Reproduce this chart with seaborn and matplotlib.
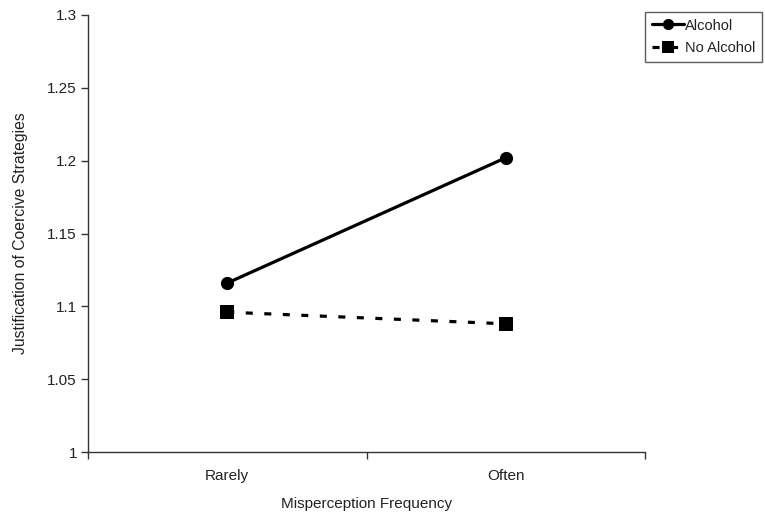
import matplotlib
matplotlib.use("Agg")
import matplotlib.pyplot as plt
import seaborn as sns
import pandas as pd
from matplotlib.ticker import FixedLocator

categories = ["Rarely", "Often"]
alcohol = [1.116, 1.202]
no_alcohol = [1.096, 1.088]
series_names = ["Alcohol", "No Alcohol"]
yticks = [1.0, 1.05, 1.1, 1.15, 1.2, 1.25, 1.3]
ytick_labels = ["1", "1.05", "1.1", "1.15", "1.2", "1.25", "1.3"]

df = pd.DataFrame({
    "Frequency": categories * 2,
    "Value": alcohol + no_alcohol,
    "Condition": [series_names[0]] * 2 + [series_names[1]] * 2,
})

sns.set_theme(style="white")
plt.rcParams['font.family'] = ['Liberation Sans', 'DejaVu Sans']

fig = plt.figure(figsize=(7.65, 5.17), dpi=100)
ax = fig.add_axes([88/765, 1-452/517, (645-88)/765, (452-15)/517])

sns.lineplot(data=df, x="Frequency", y="Value", hue="Condition", style="Condition",
             palette={"Alcohol": "black", "No Alcohol": "black"},
             markers={"Alcohol": "o", "No Alcohol": "s"},
             dashes={"Alcohol": "", "No Alcohol": (2.2, 3.6)},
             markersize=9.5, linewidth=2.3, markeredgewidth=0, ax=ax, legend=True, sort=False)

ax.set_xlim(-0.5, 1.5)
ax.set_ylim(1.0, 1.3)
ax.set_yticks(yticks)
ax.set_yticklabels(ytick_labels)
ax.set_xticks([0, 1])
ax.set_xticklabels(categories)
ax.xaxis.set_minor_locator(FixedLocator([-0.5, 0.5, 1.5]))
ax.tick_params(axis='x', which='major', length=0, pad=12, labelsize=11, colors='#222222')
ax.tick_params(axis='x', which='minor', length=5, width=1, color='#333333', direction='out', bottom=True)
ax.tick_params(axis='y', which='major', length=5, width=1, color='#333333', direction='out', left=True, labelsize=11, labelcolor='#222222', pad=3)

for s in ["top", "right"]:
    ax.spines[s].set_visible(False)
for s in ["left", "bottom"]:
    ax.spines[s].set_color("#333333")
    ax.spines[s].set_linewidth(1)

ax.set_xlabel("Misperception Frequency", fontsize=11, color='#222222', labelpad=10)
ax.set_ylabel("Justification of Coercive Strategies", fontsize=11.3, color='#222222', labelpad=14)

handles, labels = ax.get_legend_handles_labels()
ax.get_legend().remove()
leg = fig.legend(handles, labels, loc='upper left', bbox_to_anchor=(645/765, 1-12/517),
                 frameon=True, fancybox=False, fontsize=10.5, handlelength=2.2,
                 handletextpad=0.1, borderpad=0.45, labelspacing=0.6, borderaxespad=0,
                 markerscale=0.85)
leg.get_frame().set_edgecolor('#333333')
leg.get_frame().set_linewidth(1)
for t in leg.get_texts():
    t.set_color('#222222')

fig.savefig("out.png", dpi=100)
